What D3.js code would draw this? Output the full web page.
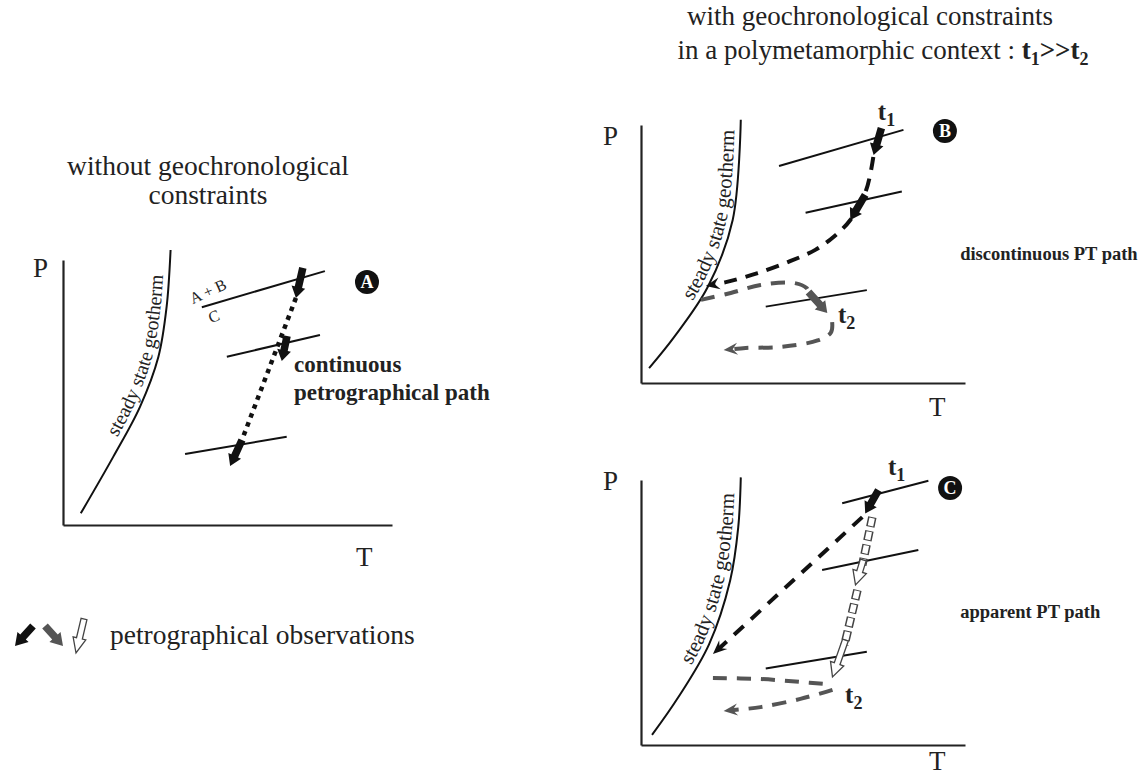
<!DOCTYPE html>
<html>
<head>
<meta charset="utf-8">
<title>PT paths</title>
<script src="https://d3js.org/d3.v7.min.js"></script>
<style>
  body { margin: 0; background: #fff; }
  text { fill: #222; }
  .bold { font-weight: bold; }
</style>
</head>
<body>
<svg id="chart" width="1144" height="778" font-family="'Liberation Serif', 'Times New Roman', serif"></svg>
<script>
// T and P are relative units (0-100 along each drawn axis)
const geothermA = [[5.4, 4.4], [15.3, 25.8], [23.4, 44.6], [29, 63.5], [31.5, 82.4], [32.7, 103.8]];
const geothermB = [[2.5, 5.8], [10.2, 17.8], [20.6, 37.2], [28.3, 63.2], [30.8, 102]];
const geothermC = [[3.4, 3.8], [11.5, 18], [21, 38], [27.5, 62], [30, 82], [30.8, 101]];

// reaction lines (e.g. A + B = C)
const reactionsA = [[[42.2, 82.2], [79.6, 95.8]], [[49.8, 63.5], [78.1, 71.7]], [[37.1, 26.8], [68, 33.3]]];
const reactionsB = [[[42.6, 84.1], [81, 98.1]], [[50.8, 66], [80.5, 74.2]], [[38.5, 29.6], [69.7, 36]]];
const reactionsC = [[[62.1, 91.2], [88.7, 99.7]], [[55.9, 66], [85.6, 73.6]], [[38.5, 28.9], [69.7, 35.2]]];

// petrographical observations: from, to, kind
const obsA = [[[72.9, 97], [70.8, 85.7], "black"], [[68.1, 71.3], [66.5, 61.9], "black"], [[54.4, 32.1], [50.8, 22.3], "black"]];
const obsB = [[[74.2, 98.8], [71.8, 88.4], "black"], [[69.2, 72.9], [64.6, 63.2], "black"], [[51.7, 35.3], [57.5, 27.1], "gray"]];
const obsC = [[[73.3, 96.2], [69.2, 87.4], "black"], [[68.6, 69.8], [66.2, 60.4], "open"], [[63.1, 39.6], [59.1, 25.7], "open"]];

// paths between observations
const pathA = [[70.8, 85.7], [54.4, 32.1]];
const pathB1 = [[71.7, 87.6], [69.5, 74.8], [64.6, 63.2], [59.4, 56.6], [53.8, 51.6], [46.2, 47.3], [36, 42.6], [26.2, 39.1], [20, 37.6]];
const pathB2 = [[18.5, 32.2], [27.7, 34.9], [36.9, 38], [47.1, 38.8], [51.1, 36.8], [51.7, 35.3]];
const pathB3 = [[59, 23.6], [58.6, 19.5], [54.5, 16.5], [43.1, 14], [32.3, 13.6], [25.5, 12.8]];
const pathC1 = [[68.3, 86], [22.2, 34.3]];
const chainC = [[[71.4, 86], [68.3, 67.9]], [[66.8, 58.5], [62.8, 37.7]]];
const pathC2 = [[22.2, 25.3], [36.9, 24.9], [49.2, 23.8], [56.9, 23]];
const pathC3 = [[59.1, 20.8], [49.2, 17.4], [36.9, 14.3], [25.5, 12.8]];

// labels
const badges = [["A", 92.4, 91.7], ["B", 93.8, 97.7], ["C", 95.4, 97]];
const timeLabelsB = [["1", 73.1, 101.9], ["2", 60.8, 23.3]];
const timeLabelsC = [["1", 76.2, 101.9], ["2", 63, 15.8]];
const pathTextA = ["continuous", "petrographical path"];
const pathTextB = ["discontinuous PT path"];
const pathTextC = ["apparent PT path"];
const leftTitle = ["without geochronological", "constraints"];
const rightTitle = "with geochronological constraints";
const legendText = "petrographical observations";

const svg = d3.select("#chart");
const ink = "#111", gray = "#555";

const frames = {
  A: { left: 63, bottom: 525, width: 329, height: 265, pdx: -30, pdy: 17, tdy: 41 },
  B: { left: 641, bottom: 383, width: 324, height: 258, pdx: -38, pdy: 20, tdy: 33 },
  C: { left: 641, bottom: 745, width: 324, height: 265, pdx: -38, pdy: 10, tdy: 25 }
};

function makePanel(key) {
  const f = frames[key];
  const x = d3.scaleLinear().domain([0, 100]).range([f.left, f.left + f.width]);
  const y = d3.scaleLinear().domain([0, 100]).range([f.bottom, f.bottom - f.height]);
  const g = svg.append("g").attr("class", "panel-" + key);

  g.append("g").attr("transform", `translate(0,${f.bottom})`)
    .call(d3.axisBottom(x).tickValues([]).tickSizeOuter(0))
    .call(a => a.select(".domain").attr("stroke", "#222").attr("stroke-width", 2.2));
  g.append("g").attr("transform", `translate(${f.left},0)`)
    .call(d3.axisLeft(y).tickValues([]).tickSizeOuter(0))
    .call(a => a.select(".domain").attr("stroke", "#222").attr("stroke-width", 2.2));

  g.append("text").attr("x", f.left + f.pdx).attr("y", f.bottom - f.height + f.pdy)
    .attr("font-size", 27).text("P");
  g.append("text").attr("x", x(100) - 36).attr("y", f.bottom + f.tdy)
    .attr("font-size", 27).text("T");
  return { g, x, y };
}

function pt(p, d) { return [p.x(d[0]), p.y(d[1])]; }

function drawGeotherm(p, data, id, offset, size) {
  p.g.append("path").attr("id", id)
    .attr("d", d3.line().x(d => p.x(d[0])).y(d => p.y(d[1])).curve(d3.curveCatmullRom)(data))
    .attr("fill", "none").attr("stroke", ink).attr("stroke-width", 2);
  p.g.append("text").attr("font-size", size).attr("dy", -6)
    .append("textPath").attr("href", "#" + id).attr("startOffset", offset)
    .text("steady state geotherm");
}

function drawReactions(p, lines) {
  p.g.selectAll(null).data(lines).join("line")
    .attr("x1", d => p.x(d[0][0])).attr("y1", d => p.y(d[0][1]))
    .attr("x2", d => p.x(d[1][0])).attr("y2", d => p.y(d[1][1]))
    .attr("stroke", ink).attr("stroke-width", 2);
}

function blockArrow(g, a, b, kind, shaft, head, headLen) {
  const dx = b[0] - a[0], dy = b[1] - a[1], L = Math.hypot(dx, dy);
  const ux = dx / L, uy = dy / L, nx = -uy, ny = ux;
  const bx = b[0] - ux * headLen, by = b[1] - uy * headLen;
  const s = shaft / 2, h = head / 2;
  const pts = [
    [a[0] + nx * s, a[1] + ny * s], [bx + nx * s, by + ny * s], [bx + nx * h, by + ny * h],
    b, [bx - nx * h, by - ny * h], [bx - nx * s, by - ny * s], [a[0] - nx * s, a[1] - ny * s]
  ];
  g.append("polygon").attr("points", pts.map(q => q.join(",")).join(" "))
    .attr("fill", kind === "black" ? ink : kind === "gray" ? gray : "#fff")
    .attr("stroke", kind === "open" ? "#444" : "none").attr("stroke-width", 1.3)
    .attr("stroke-linejoin", "miter");
}

function drawObs(p, list) {
  list.forEach(d => {
    const open = d[2] === "open";
    blockArrow(p.g, pt(p, d[0]), pt(p, d[1]), d[2], open ? 6 : 7.5, 14, open ? 14 : 11);
  });
}

function lineHead(g, a, b, color) {
  const dx = b[0] - a[0], dy = b[1] - a[1], L = Math.hypot(dx, dy);
  const ux = dx / L, uy = dy / L, nx = -uy, ny = ux;
  const len = 14, w = 6;
  const back = [b[0] - ux * len, b[1] - uy * len];
  const notch = [b[0] - ux * len * 0.65, b[1] - uy * len * 0.65];
  const pts = [b, [back[0] + nx * w, back[1] + ny * w], notch, [back[0] - nx * w, back[1] - ny * w]];
  g.append("polygon").attr("points", pts.map(q => q.join(",")).join(" ")).attr("fill", color);
}

function dashed(p, data, color, dash, width, head) {
  const pts = data.map(d => pt(p, d));
  let draw = pts;
  if (head) {
    // stop the stroke a little before the tip, the head covers the rest
    const n = pts.length, a = pts[n - 2], b = pts[n - 1];
    const L = Math.hypot(b[0] - a[0], b[1] - a[1]);
    draw = pts.slice(0, n - 1).concat([[b[0] - (b[0] - a[0]) / L * 8, b[1] - (b[1] - a[1]) / L * 8]]);
  }
  p.g.append("path")
    .attr("d", d3.line().curve(d3.curveCatmullRom)(draw))
    .attr("fill", "none").attr("stroke", color).attr("stroke-width", width)
    .attr("stroke-dasharray", dash);
  if (head) lineHead(p.g, pts[pts.length - 2], pts[pts.length - 1], color);
}

function badge(p, b) {
  const g = p.g.append("g").attr("transform", `translate(${p.x(b[1])},${p.y(b[2])})`);
  g.append("circle").attr("r", 12).attr("fill", ink);
  g.append("text").attr("text-anchor", "middle").attr("y", 6).attr("font-size", 18)
    .attr("class", "bold").style("fill", "#fff").text(b[0]);
}

function timeLabel(p, t) {
  const tx = p.g.append("text").attr("x", p.x(t[1])).attr("y", p.y(t[2]))
    .attr("font-size", 25).attr("class", "bold");
  tx.append("tspan").text("t");
  tx.append("tspan").attr("dy", 6).attr("font-size", 18).text(t[0]);
}

function boldLines(p, lines, T, P, step, size) {
  lines.forEach((s, i) => {
    p.g.append("text").attr("class", "bold").attr("font-size", size)
      .attr("x", p.x(T)).attr("y", p.y(P) + i * step).text(s);
  });
}

// ---------- panel A ----------
const pA = makePanel("A");
drawGeotherm(pA, geothermA, "geoA", 84, 20);
drawReactions(pA, reactionsA);
dashed(pA, pathA, ink, "4.5 5", 4.5, false);
drawObs(pA, obsA);
{
  const l = reactionsA[0][0];
  const ang = Math.atan2(pA.y(reactionsA[0][1][1]) - pA.y(l[1]), pA.x(reactionsA[0][1][0]) - pA.x(l[0])) * 180 / Math.PI;
  pA.g.append("text").attr("font-size", 16)
    .attr("transform", `translate(${pA.x(l[0]) - 9},${pA.y(l[1]) - 3}) rotate(${ang - 8})`).text("A + B");
  pA.g.append("text").attr("font-size", 16)
    .attr("transform", `translate(${pA.x(l[0]) + 9},${pA.y(l[1]) + 16}) rotate(${ang - 4})`).text("C");
}
badge(pA, badges[0]);
boldLines(pA, pathTextA, 70.2, 57.7, 28, 23);

// ---------- panel B ----------
const pB = makePanel("B");
drawGeotherm(pB, geothermB, "geoB", 80, 21);
drawReactions(pB, reactionsB);
dashed(pB, pathB1, ink, "13 9", 4, true);
dashed(pB, pathB2, gray, "14 10", 4, false);
dashed(pB, pathB3, gray, "14 10", 4, true);
drawObs(pB, obsB);
badge(pB, badges[1]);
timeLabelsB.forEach(t => timeLabel(pB, t));
boldLines(pB, pathTextB, 98.5, 47.5, 0, 18.5);

// ---------- panel C ----------
const pC = makePanel("C");
drawGeotherm(pC, geothermC, "geoC", 80, 21);
drawReactions(pC, reactionsC);
dashed(pC, pathC1, ink, "13 10", 4, true);
dashed(pC, pathC2, gray, "14 10", 4, false);
dashed(pC, pathC3, gray, "14 10", 4, true);
chainC.forEach(seg => {
  const d = d3.line()(seg.map(q => pt(pC, q)));
  pC.g.append("path").attr("d", d).attr("stroke", "#444").attr("stroke-width", 8.5).attr("stroke-dasharray", "10 4");
  pC.g.append("path").attr("d", d).attr("stroke", "#fff").attr("stroke-width", 5.5)
    .attr("stroke-dasharray", "8 6").attr("stroke-dashoffset", -1);
});
drawObs(pC, obsC);
badge(pC, badges[2]);
timeLabelsC.forEach(t => timeLabel(pC, t));
boldLines(pC, pathTextC, 98.5, 47.9, 0, 18.5);

// ---------- titles ----------
leftTitle.forEach((s, i) => {
  svg.append("text").attr("x", 208).attr("y", 175 + i * 29).attr("text-anchor", "middle")
    .attr("font-size", 27.5).text(s);
});
svg.append("text").attr("x", 870).attr("y", 25).attr("text-anchor", "middle").attr("font-size", 27).text(rightTitle);
{
  const t = svg.append("text").attr("x", 883).attr("y", 59).attr("text-anchor", "middle").attr("font-size", 27);
  t.append("tspan").text("in a polymetamorphic context : ");
  const b = t.append("tspan").attr("class", "bold");
  b.append("tspan").text("t");
  b.append("tspan").attr("dy", 6).attr("font-size", 18).text("1");
  b.append("tspan").attr("dy", -6).text(">>t");
  b.append("tspan").attr("dy", 6).attr("font-size", 18).text("2");
}

// ---------- legend ----------
{
  const g = svg.append("g").attr("class", "legend");
  blockArrow(g, [33, 626], [15, 646], "black", 7.5, 15, 12);
  blockArrow(g, [45, 626], [63, 646], "gray", 7.5, 15, 12);
  blockArrow(g, [84, 619], [76, 653], "open", 6, 13, 15);
  g.append("text").attr("x", 110).attr("y", 644).attr("font-size", 27.5).text(legendText);
}
</script>
</body>
</html>
